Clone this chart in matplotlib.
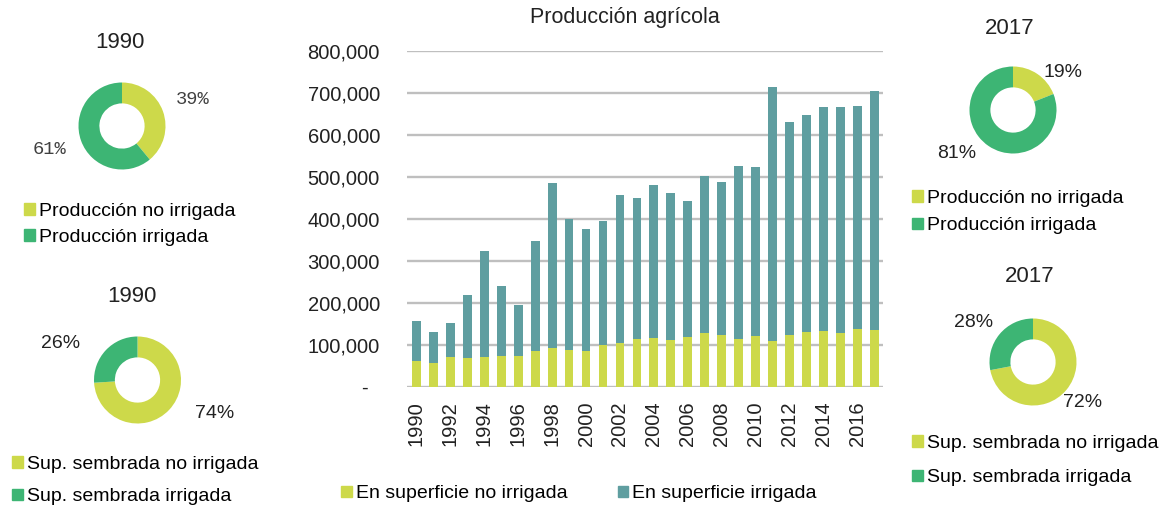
import numpy as np
import matplotlib
matplotlib.use("Agg")
import matplotlib.pyplot as plt
from matplotlib.patches import Patch
from matplotlib.ticker import FuncFormatter

plt.rcParams['font.family'] = ['Liberation Sans', 'DejaVu Sans']

# Bar chart data (tonnes)
years = list(range(1990, 2018))
no_irrigada = [61000, 57000, 71000, 70000, 71000, 74000, 75000, 86000, 92000, 89000,
               86000, 100000, 105000, 114000, 117000, 112000, 120000, 129000, 125000, 114000,
               121000, 109000, 125000, 132000, 134000, 129000, 137000, 136000]
irrigada = [95000, 75000, 81000, 149000, 253000, 167000, 120000, 261000, 393000, 311000,
            291000, 296000, 353000, 336000, 364000, 350000, 323000, 374000, 364000, 412000,
            403000, 605000, 506000, 516000, 533000, 538000, 533000, 568000]

# Donut data (%)
prod_1990 = [39, 61]
sup_1990 = [74, 26]
prod_2017 = [19, 81]
sup_2017 = [72, 28]
prod_labels = ["Producción no irrigada", "Producción irrigada"]
sup_labels = ["Sup. sembrada no irrigada", "Sup. sembrada irrigada"]
bar_labels = ["En superficie no irrigada", "En superficie irrigada"]

# Colors
YELLOW = "#CDD94A"
GREEN = "#3DB574"
TEAL = "#5F9EA0"
GRID = "#BFBFBF"

W, H = 1163, 508
fig = plt.figure(figsize=(W / 100, H / 100), dpi=100)


def px_rect(left, top, right, bottom):
    return [left / W, 1 - bottom / H, (right - left) / W, (bottom - top) / H]


# Main stacked bar chart
ax = fig.add_axes(px_rect(407, 51, 883, 387))
x = np.arange(len(years))
ax.bar(x, no_irrigada, width=0.52, color=YELLOW, zorder=2)
ax.bar(x, irrigada, width=0.52, bottom=no_irrigada, color=TEAL, zorder=2)
ax.set_xlim(-0.55, len(years) - 0.5)
ax.set_ylim(0, 800000)
ax.set_yticks(np.arange(0, 800001, 100000))
ax.yaxis.set_major_formatter(FuncFormatter(lambda v, p: "-  " if v == 0 else f"{v:,.0f}"))
ax.set_xticks(x[::2])
ax.set_xticklabels([str(y) for y in years[::2]], rotation=90)
ax.tick_params(axis='y', length=0, pad=19.5, labelsize=14.5, labelcolor="#222222")
ax.tick_params(axis='x', length=0, pad=10.5, labelsize=14.5, labelcolor="#222222")
ax.yaxis.grid(True, color=GRID, linewidth=1.7, zorder=0)
ax.set_axisbelow(True)
for s in ax.spines.values():
    s.set_visible(False)

fig.text(625 / W, 1 - 18 / H, "Producción agrícola", ha='center', va='center',
         fontsize=15.5, color="#222222")

fig.legend(handles=[Patch(color=YELLOW), Patch(color=TEAL)], labels=bar_labels,
           loc='center left', bbox_to_anchor=(341 / W, 1 - 494 / H), ncol=2,
           frameon=False, fontsize=14, handlelength=0.55, handleheight=0.55,
           handletextpad=0.2, columnspacing=2.6, borderpad=0, borderaxespad=0)


def donut(cx, cy, values, colors, title, title_xy, label_pos, mono=False):
    r_px = 43.5
    half = 110
    a = fig.add_axes(px_rect(cx - half, cy - half, cx + half, cy + half))
    a.pie(values, colors=colors, startangle=90, counterclock=False,
          wedgeprops=dict(width=0.48, linewidth=0))
    lim = half / r_px
    a.set_xlim(-lim, lim)
    a.set_ylim(-lim, lim)
    a.set_aspect('equal')
    a.axis('off')
    for v, (lx, ly) in zip(values, label_pos):
        if mono:
            a.text(lx, ly, f"{v}%", ha='center', va='center', fontsize=13.5,
                   family=['Liberation Mono', 'DejaVu Sans Mono'], color="#404040")
        else:
            a.text(lx, ly, f"{v}%", ha='center', va='center', fontsize=14,
                   color="#222222")
    fig.text(title_xy[0] / W, 1 - title_xy[1] / H, title, ha='center', va='center',
             fontsize=16, color="#222222")


def donut_legend(x, ymid, labels, spacing):
    fig.legend(handles=[Patch(color=YELLOW), Patch(color=GREEN)], labels=labels,
               loc='center left', bbox_to_anchor=(x / W, 1 - ymid / H), ncol=1,
               frameon=False, fontsize=14, handlelength=0.55, handleheight=0.55,
               handletextpad=0.2, labelspacing=spacing, borderpad=0, borderaxespad=0)


donut(122, 126, prod_1990, [YELLOW, GREEN], "1990", (120, 42),
      [(1.63, 0.62), (-1.66, -0.53)], mono=True)
donut_legend(24, 224.5, prod_labels, 0.45)

donut(137.5, 380, sup_1990, [YELLOW, GREEN], "1990", (132, 297),
      [(1.78, -0.76), (-1.76, 0.85)])
donut_legend(12, 480.5, sup_labels, 0.8)

donut(1013, 110, prod_2017, [YELLOW, GREEN], "2017", (1010, 28),
      [(1.15, 0.87), (-1.29, -1.01)])
donut_legend(912, 212, prod_labels, 0.55)

donut(1033, 362, sup_2017, [YELLOW, GREEN], "2017", (1030, 277),
      [(1.15, -0.92), (-1.36, 0.90)])
donut_legend(912, 460.5, sup_labels, 0.9)

fig.savefig("out.png", dpi=100)
